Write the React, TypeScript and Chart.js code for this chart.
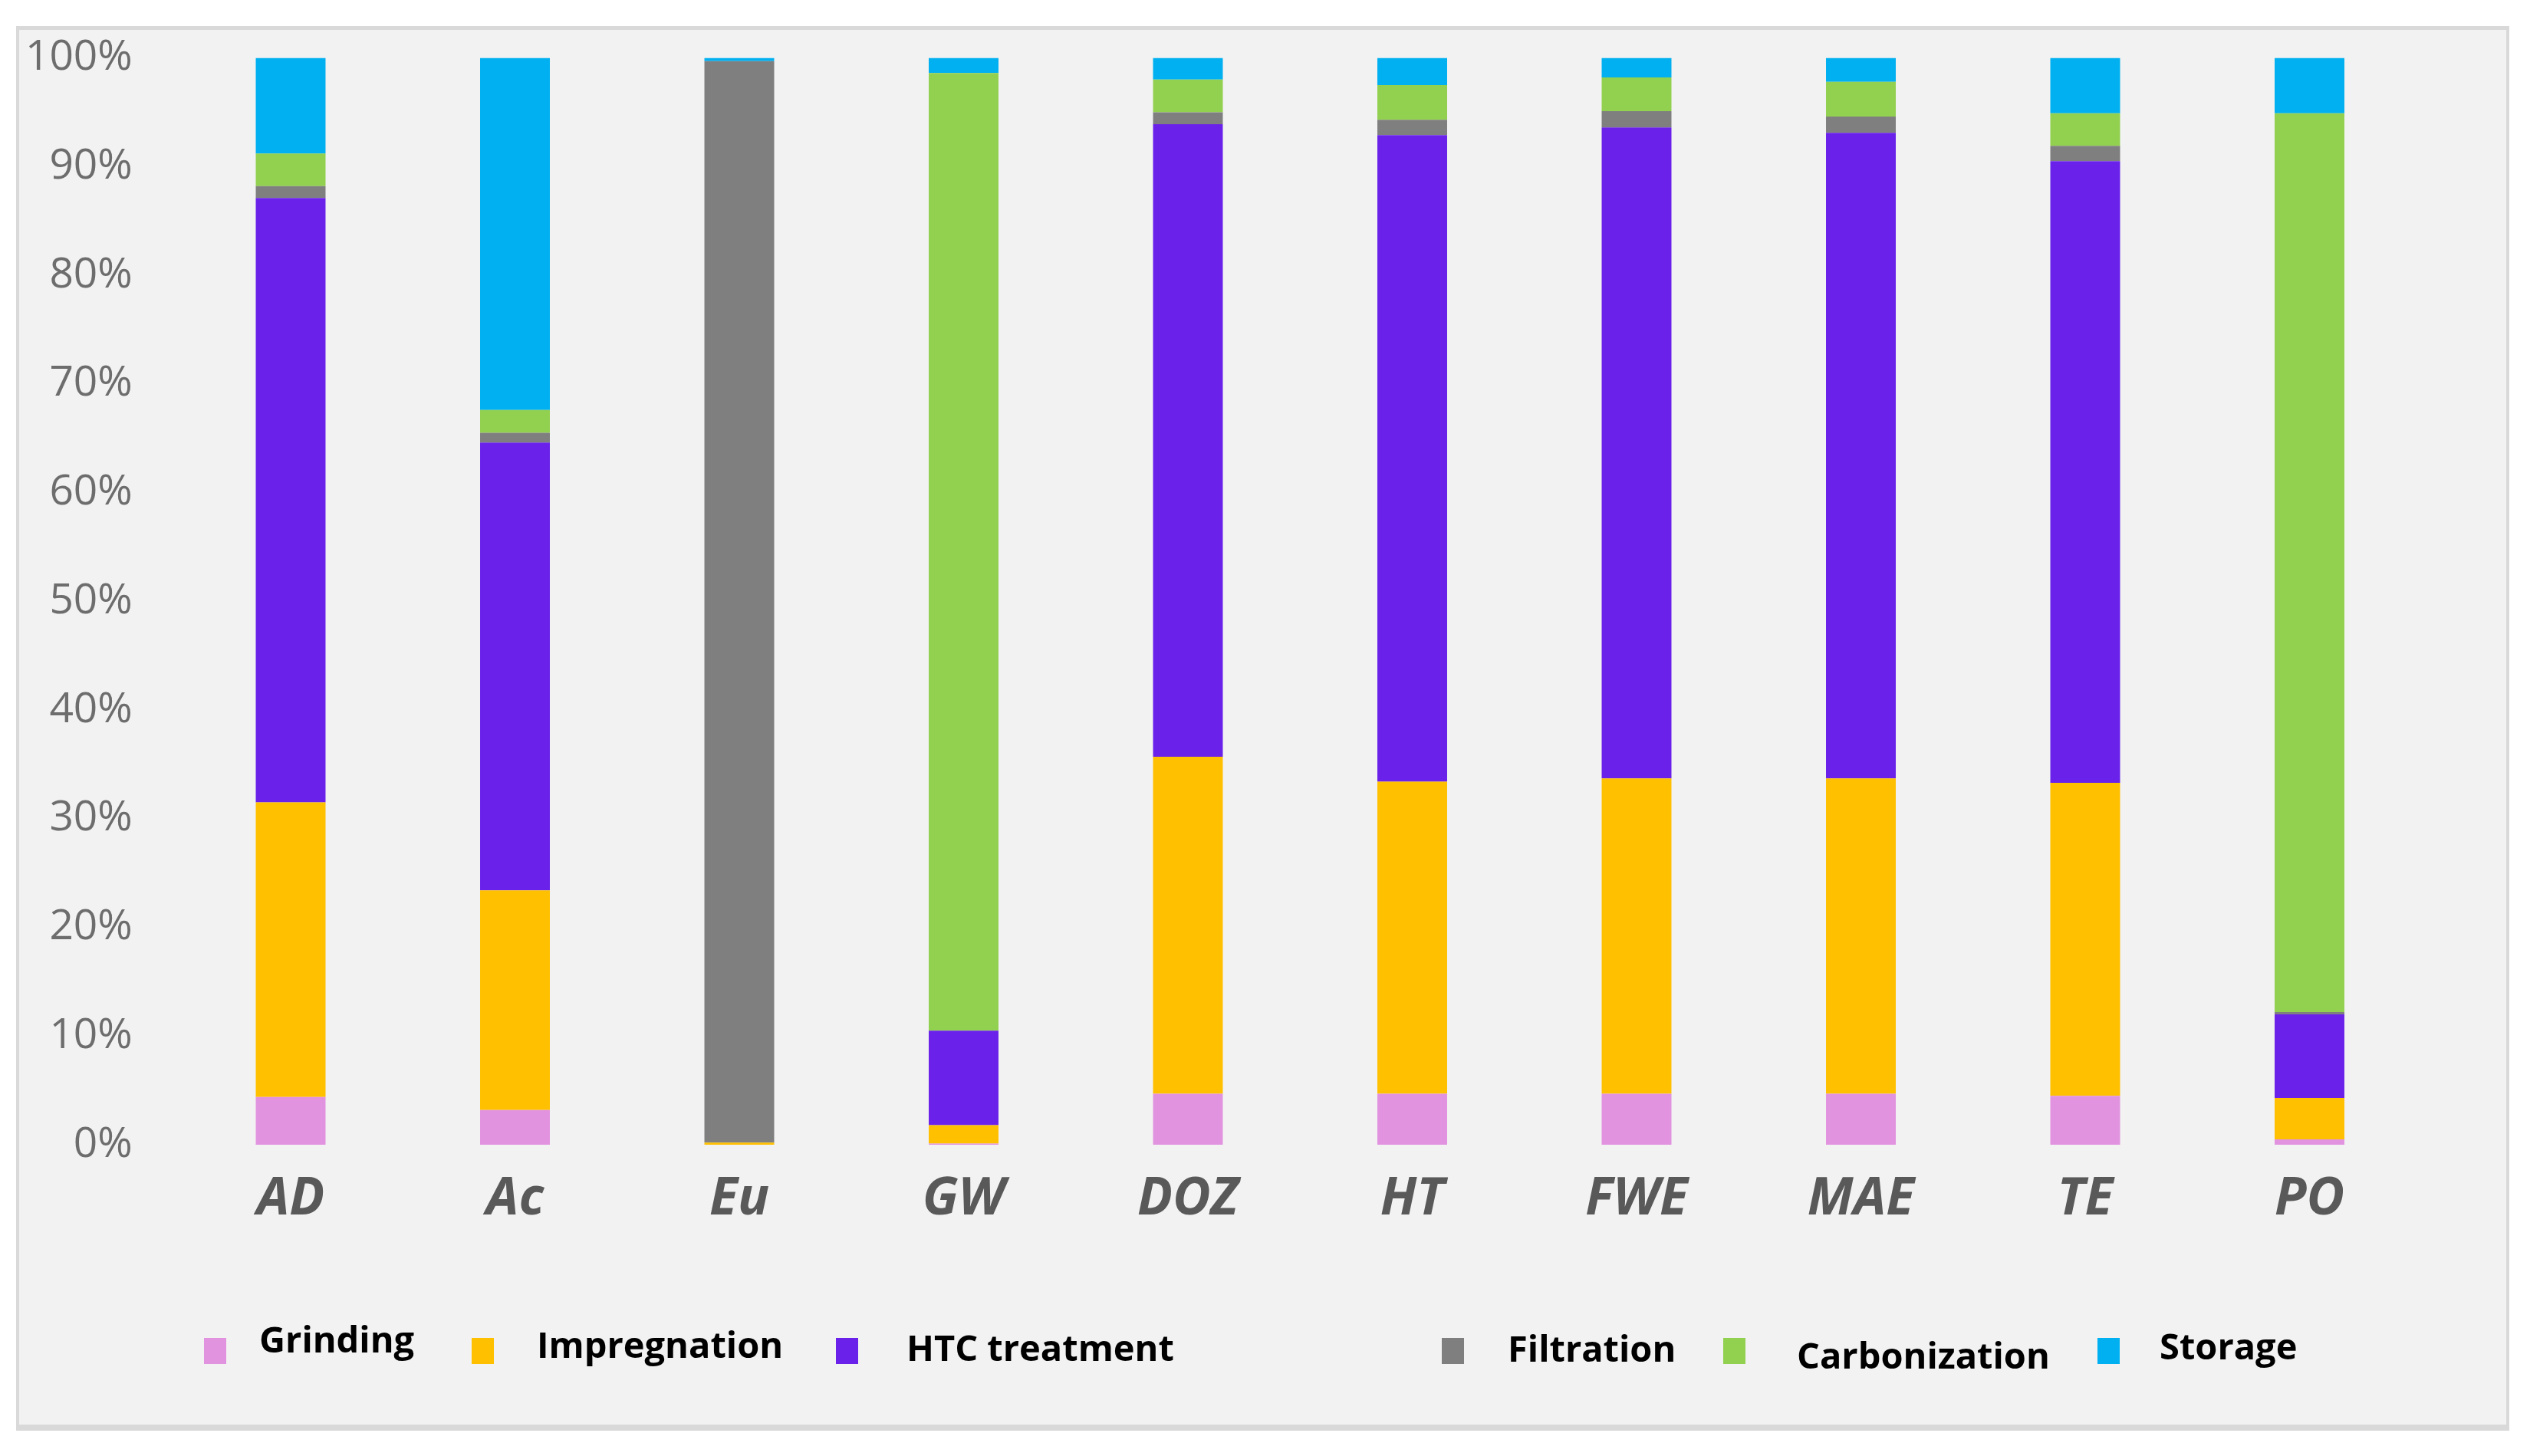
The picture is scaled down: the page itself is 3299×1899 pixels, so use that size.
import React, { useEffect, useRef } from "react";
import { Chart, registerables } from "chart.js";

Chart.register(...registerables);

// ---- Data ----
const categories = ["AD", "Ac", "Eu", "GW", "DOZ", "HT", "FWE", "MAE", "TE", "PO"];
const grinding = [4.4, 3.2, 0, 0.1, 4.7, 4.7, 4.7, 4.7, 4.5, 0.5];
const impregnation = [27.1, 20.2, 0.2, 1.7, 31.0, 28.7, 29.0, 29.0, 28.8, 3.8];
const htcTreatment = [55.6, 41.2, 0, 8.7, 58.2, 59.5, 59.9, 59.4, 57.2, 7.7];
const filtration = [1.1, 0.9, 99.5, 0, 1.1, 1.4, 1.5, 1.5, 1.4, 0.2];
const carbonization = [3.0, 2.1, 0, 88.1, 3.0, 3.2, 3.1, 3.2, 3.0, 82.7];
const storage = [8.8, 32.4, 0.3, 1.4, 2.0, 2.5, 1.8, 2.2, 5.1, 5.1];

const seriesNames = ["Grinding", "Impregnation", "HTC treatment", "Filtration", "Carbonization", "Storage"];
const seriesValues = [grinding, impregnation, htcTreatment, filtration, carbonization, storage];
const seriesColors = ["#E293E0", "#FFC000", "#6A22EA", "#7F7F7F", "#92D050", "#00B0F0"];

// legend layout (left x of each marker, text offsets)
const legendLeft = [266, 615, 1090, 1880, 2247, 2735];
const legendTextDx = [72, 85, 92, 86, 96, 81];
const legendTextDy = [-11, -4, 0, 1, 10, -2];

export default function App() {
  const canvasRef = useRef<HTMLCanvasElement | null>(null);

  useEffect(() => {
    if (!canvasRef.current) return;
    const chart = new Chart(canvasRef.current, {
      type: "bar",
      data: {
        labels: categories,
        datasets: seriesNames.map((name, i) => ({
          label: name,
          data: seriesValues[i],
          backgroundColor: seriesColors[i],
          borderWidth: 0,
          barPercentage: 0.311,
          categoryPercentage: 1,
        })),
      },
      options: {
        animation: false,
        responsive: false,
        devicePixelRatio: 1,
        layout: { padding: { left: 0, right: 141.25, top: 75.5, bottom: 0 } },
        plugins: { legend: { display: false }, tooltip: { enabled: false } },
        scales: {
          x: {
            stacked: true,
            grid: { display: false, drawTicks: false },
            border: { display: false },
            ticks: {
              color: "#595959",
              font: { family: "Open Sans", size: 68, weight: "bold", style: "italic" },
              padding: 31,
              maxRotation: 0,
              autoSkip: false,
            },
            afterFit: (s: any) => {
              s.height = 406;
            },
          },
          y: {
            stacked: true,
            min: 0,
            max: 100,
            grid: { display: false, drawTicks: false },
            border: { display: false },
            ticks: {
              stepSize: 10,
              color: "#6d6d6d",
              font: { family: "Open Sans", size: 55, lineHeight: 0.4 },
              padding: 60,
              callback: (v: any) => v + "%",
            },
            afterFit: (s: any) => {
              s.width = 232.75;
            },
          },
        },
      },
    });
    return () => chart.destroy();
  }, []);

  return (
    <div style={{ position: "fixed", left: 0, top: 0, width: 3299, height: 1899, background: "#ffffff", overflow: "hidden" }}>
      <div
        style={{
          position: "absolute",
          left: 21,
          top: 34,
          width: 3251,
          height: 1832,
          boxSizing: "border-box",
          background: "#f2f2f2",
          borderTop: "5px solid #d9d9d9",
          borderLeft: "4px solid #d9d9d9",
          borderRight: "4px solid #d9d9d9",
          borderBottom: "8px solid #d9d9d9",
        }}
      />
      <canvas
        ref={canvasRef}
        width={3299}
        height={1899}
        style={{ position: "absolute", left: 0, top: 0, width: 3299, height: 1899 }}
      />
      {seriesNames.map((name, i) => (
        <div
          key={name}
          style={{
            position: "absolute",
            left: legendLeft[i],
            top: 1745,
            height: 34,
            whiteSpace: "nowrap",
          }}
        >
          <span
            style={{
              position: "absolute",
              left: 0,
              top: 0,
              width: 29,
              height: 34,
              background: seriesColors[i],
            }}
          />
          <span
            style={{
              position: "absolute",
              left: legendTextDx[i],
              top: -12 + legendTextDy[i],
              fontFamily: "'Open Sans', sans-serif",
              fontWeight: 700,
              fontSize: 47,
              lineHeight: "48px",
              color: "#000000",
            }}
          >
            {name}
          </span>
        </div>
      ))}
    </div>
  );
}
